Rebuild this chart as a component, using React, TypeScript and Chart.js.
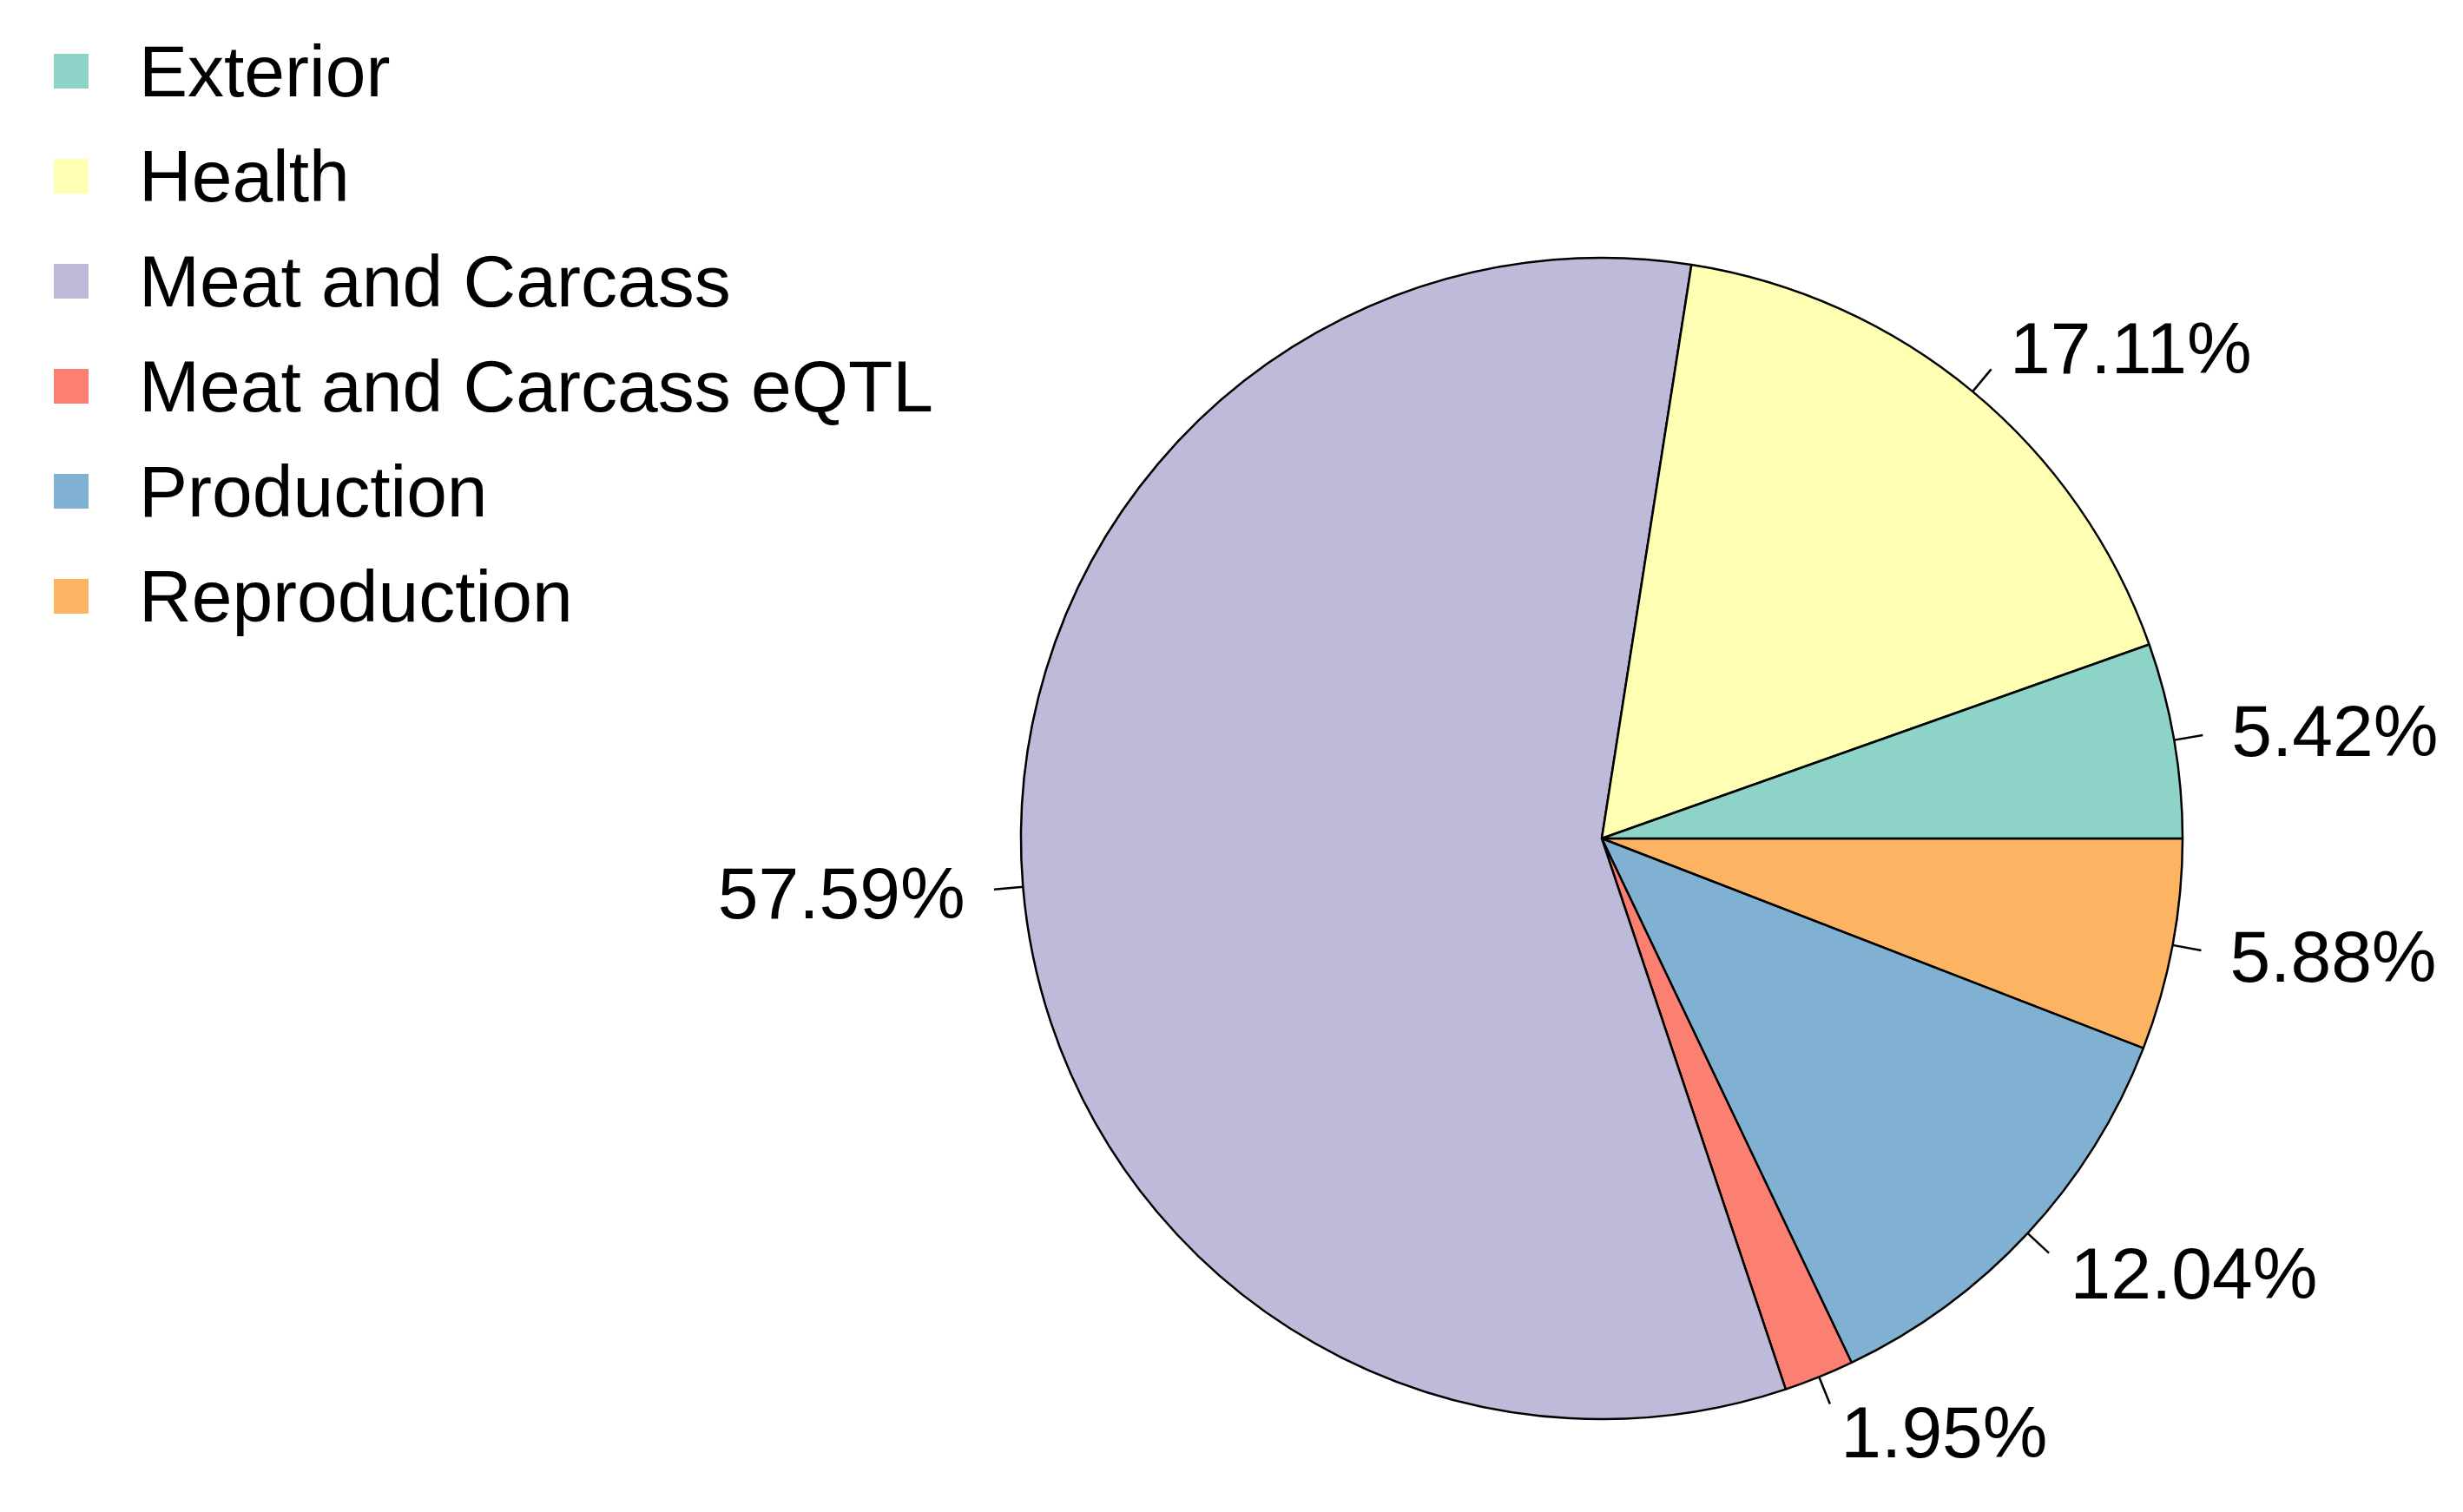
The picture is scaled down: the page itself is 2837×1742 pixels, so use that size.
import React, { useEffect, useRef } from "react";
import { Chart, registerables } from "chart.js";

Chart.register(...registerables);

const categories = [
  "Exterior",
  "Health",
  "Meat and Carcass",
  "Meat and Carcass eQTL",
  "Production",
  "Reproduction",
];
const percentages = [5.42, 17.11, 57.59, 1.95, 12.04, 5.88];
const sliceColors = ["#8DD3C7", "#FFFFB3", "#BEBADA", "#FB8072", "#80B1D3", "#FDB462"];

const FONT = "'Liberation Sans', Arial, Helvetica, sans-serif";
const FONT_SIZE = 84;

export default function App() {
  const canvasRef = useRef<HTMLCanvasElement | null>(null);

  useEffect(() => {
    document.body.style.margin = "0";
    const canvas = canvasRef.current;
    if (!canvas) return;

    // R draws counter-clockwise from 3 o'clock; Chart.js draws clockwise,
    // so feed the slices in reverse order starting at 3 o'clock.
    const order = categories.map((_, i) => i).reverse();
    const data = order.map((i) => percentages[i]);
    const colors = order.map((i) => sliceColors[i]);
    const labels = order.map((i) => categories[i]);

    const pieLabels = {
      id: "pieLabels",
      afterDatasetsDraw(chart: any) {
        const ctx = chart.ctx as CanvasRenderingContext2D;
        const meta = chart.getDatasetMeta(0);
        ctx.save();
        ctx.font = `${FONT_SIZE}px ${FONT}`;
        ctx.fillStyle = "#000";
        ctx.strokeStyle = "#000";
        ctx.lineWidth = 2.5;
        const ds = chart.data.datasets[0];
        meta.data.forEach((arc: any, idx: number) => {
          const { x, y, startAngle, endAngle, outerRadius } = arc.getProps(
            ["x", "y", "startAngle", "endAngle", "outerRadius"],
            true
          );
          const mid = (startAngle + endAngle) / 2;
          const c = Math.cos(mid);
          const s = Math.sin(mid);
          ctx.beginPath();
          ctx.moveTo(x + outerRadius * c, y + outerRadius * s);
          ctx.lineTo(x + outerRadius * 1.05 * c, y + outerRadius * 1.05 * s);
          ctx.stroke();
          const lx = x + outerRadius * 1.1 * c;
          const ly = y + outerRadius * 1.1 * s;
          ctx.textAlign = c >= 0 ? "left" : "right";
          ctx.textBaseline = "alphabetic";
          const v = ds.data[idx] as number;
          ctx.fillText(`${v.toFixed(2)}%`, lx, ly + FONT_SIZE * 0.716 / 2);
        });
        ctx.restore();
      },
    };

    const legendPlugin = {
      id: "customLegend",
      afterDraw(chart: any) {
        const ctx = chart.ctx as CanvasRenderingContext2D;
        ctx.save();
        ctx.font = `${FONT_SIZE}px ${FONT}`;
        ctx.textAlign = "left";
        ctx.textBaseline = "alphabetic";
        categories.forEach((name, i) => {
          const cy = 82 + 121 * i;
          ctx.fillStyle = sliceColors[i];
          ctx.fillRect(62, cy - 20, 40, 40);
          ctx.fillStyle = "#000";
          ctx.fillText(name, 160, cy + 29);
        });
        ctx.restore();
      },
    };

    const chart = new Chart(canvas, {
      type: "pie",
      data: {
        labels,
        datasets: [
          {
            data,
            backgroundColor: colors,
            borderColor: "#000",
            borderWidth: 2.5,
            radius: 669,
          } as any,
        ],
      },
      options: {
        animation: false,
        responsive: false,
        maintainAspectRatio: false,
        devicePixelRatio: 1,
        rotation: 90,
        layout: { padding: { left: 1000, right: 147, top: 200, bottom: 10 } },
        plugins: {
          legend: { display: false },
          tooltip: { enabled: false },
        },
      },
      plugins: [pieLabels, legendPlugin],
    });

    return () => {
      chart.destroy();
    };
  }, []);

  return (
    <div style={{ width: 2837, height: 1742, overflow: "hidden", background: "#fff" }}>
      <canvas ref={canvasRef} width={2837} height={1742} style={{ width: 2837, height: 1742, display: "block" }} />
    </div>
  );
}
